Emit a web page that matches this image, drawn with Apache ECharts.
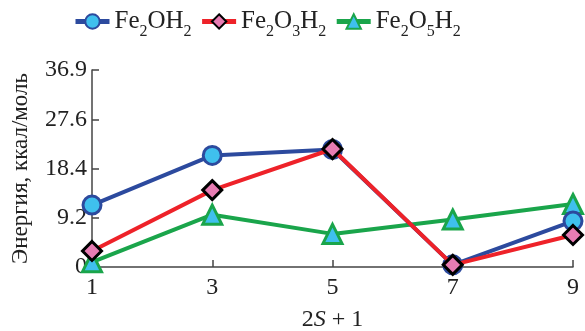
<!DOCTYPE html>
<html><head><meta charset="utf-8">
<script src="https://cdn.jsdelivr.net/npm/echarts@6/dist/echarts.min.js"></script>
<style>html,body{margin:0;padding:0;background:#fff}#c{width:585px;height:331px}</style>
</head><body><div id="c"></div>
<script>
var categories = ['1', '3', '5', '7', '9'];
var fe2oh2 = [11.6, 20.9, 22.0, 0.4, 8.6];
var fe2o3h2 = [3.0, 14.4, 22.1, 0.4, 6.0];
var fe2o5h2 = [0.9, 9.8, 6.2, 8.9, 11.8];
var yTickLabels = ['0', '9.2', '18.4', '27.6', '36.9'];
var seriesNames = ['Fe2OH2', 'Fe2O3H2', 'Fe2O5H2'];
var legendRich = {
  'Fe2OH2': '{n|Fe}{s|2}{n|OH}{s|2}',
  'Fe2O3H2': '{n|Fe}{s|2}{n|O}{s|3}{n|H}{s|2}',
  'Fe2O5H2': '{n|Fe}{s|2}{n|O}{s|5}{n|H}{s|2}'
};
var FONT = 'Liberation Serif';
var chart = echarts.init(document.getElementById('c'));
chart.setOption({
  animation: false,
  backgroundColor: '#fff',
  textStyle: { fontFamily: FONT },
  legend: {
    top: 4, left: 68,
    data: seriesNames,
    itemWidth: 34, itemHeight: 18, itemGap: 8,
    lineStyle: { width: 5 },
    formatter: function (n) { return legendRich[n]; },
    textStyle: {
      fontFamily: FONT, color: '#222', fontSize: 25,
      rich: {
        n: { fontFamily: FONT, fontSize: 25, color: '#222', verticalAlign: 'bottom' },
        s: { fontFamily: FONT, fontSize: 16, color: '#222', verticalAlign: 'bottom', padding: [0, 0, -6, 0] }
      }
    }
  },
  grid: { left: 92, right: 12, top: 70, bottom: 64, containLabel: false, outerBoundsMode: 'none' },
  xAxis: {
    type: 'category', data: categories, boundaryGap: false,
    name: '{a|2}{i|S}{a| + 1}', nameLocation: 'middle', nameGap: 41,
    nameTextStyle: { fontFamily: FONT, fontSize: 24, rich: {
      a: { fontFamily: FONT, fontSize: 24, color: '#222' },
      i: { fontFamily: FONT, fontSize: 24, color: '#222', fontStyle: 'italic' } } },
    axisLine: { lineStyle: { color: '#444', width: 1.5 } },
    axisTick: { inside: true, length: 7, lineStyle: { color: '#444', width: 1.5 } },
    axisLabel: { fontFamily: FONT, fontSize: 24, color: '#222', margin: 9 },
    splitLine: { show: false }
  },
  yAxis: {
    type: 'value', min: 0, max: 36.9, interval: 9.225,
    name: 'Энергия, ккал/моль', nameLocation: 'middle', nameGap: 60, nameRotate: 90,
    nameTextStyle: { fontFamily: FONT, fontSize: 23, color: '#222' },
    axisLine: { show: true, lineStyle: { color: '#444', width: 1.5 } },
    axisTick: { show: true, inside: true, length: 7, lineStyle: { color: '#444', width: 1.5 } },
    axisLabel: { fontFamily: FONT, fontSize: 24, color: '#222', margin: 5,
      formatter: function (v) { return yTickLabels[Math.round(v / 9.225)]; } },
    splitLine: { show: false }
  },
  series: [
    { name: 'Fe2O5H2', type: 'line', data: fe2o5h2, z: 2,
      symbol: 'triangle', symbolSize: 19,
      lineStyle: { color: '#1aa54b', width: 4 },
      itemStyle: { color: '#3fc0ee', borderColor: '#1aa54b', borderWidth: 3 } },
    { name: 'Fe2OH2', type: 'line', data: fe2oh2, z: 3,
      symbol: 'circle', symbolSize: 18,
      lineStyle: { color: '#2c4a9e', width: 4 },
      itemStyle: { color: '#3fc0ee', borderColor: '#2c4a9e', borderWidth: 3 } },
    { name: 'Fe2O3H2', type: 'line', data: fe2o3h2, z: 4,
      symbol: 'diamond', symbolSize: 19,
      lineStyle: { color: '#ee2229', width: 4 },
      itemStyle: { color: '#e77cb3', borderColor: '#000', borderWidth: 3 } }
  ]
});
</script></body></html>
